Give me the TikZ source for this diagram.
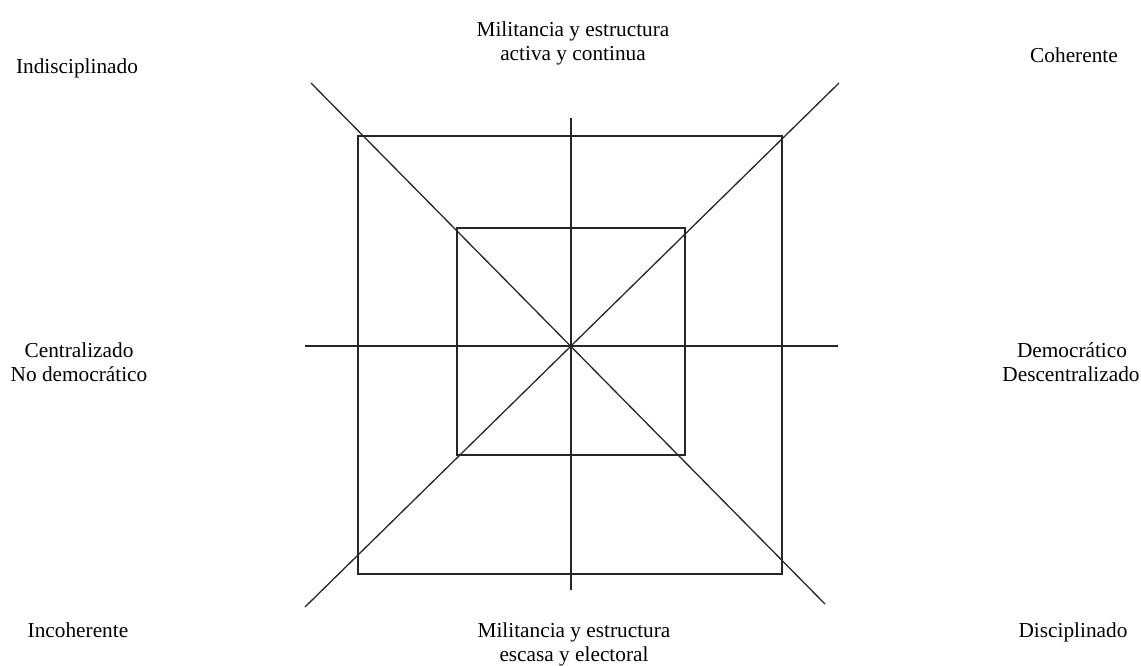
\documentclass[tikz,border=0pt]{standalone}
\usepackage{fontspec}
\setmainfont{Liberation Serif}
\begin{document}
\begin{tikzpicture}[x=1pt,y=-1pt,
  lbl/.style={inner sep=0pt,anchor=base,font=\fontsize{21.3}{24}\selectfont},
  ln/.style={line width=1.3pt,black!85}]
\useasboundingbox (0,0) rectangle (1141,665);
% named coordinates
\coordinate (c) at (571,346);
\coordinate (vt) at (571,118);
\coordinate (vb) at (571,590);
\coordinate (hl) at (305,346);
\coordinate (hr) at (838,346);
\coordinate (d1a) at (311,83);
\coordinate (d1b) at (825,604);
\coordinate (d2a) at (305,607);
\coordinate (d2b) at (839,83);
% squares
\draw[ln] (358,136) rectangle (782,574);
\draw[ln] (457,228) rectangle (685,455);
% axes
\draw[ln] (vt) -- (vb);
\draw[ln] (hl) -- (hr);
\draw[ln] (d1a) -- (d1b);
\draw[ln] (d2a) -- (d2b);
% labels
\node[lbl] (t1) at (573,36) {Militancia y estructura};
\node[lbl] (t2) at (573,60) {activa y continua};
\node[lbl] (ind) at (77,73) {Indisciplinado};
\node[lbl] (coh) at (1074,62) {Coherente};
\node[lbl] (cen1) at (79,357) {Centralizado};
\node[lbl] (cen2) at (79,381) {No democrático};
\node[lbl] (dem1) at (1072,357) {Democrático};
\node[lbl] (dem2) at (1071,381) {Descentralizado};
\node[lbl] (inc) at (78,637) {Incoherente};
\node[lbl] (b1) at (574,637) {Militancia y estructura};
\node[lbl] (b2) at (574,661) {escasa y electoral};
\node[lbl] (dis) at (1073,637) {Disciplinado};
\end{tikzpicture}
\end{document}
